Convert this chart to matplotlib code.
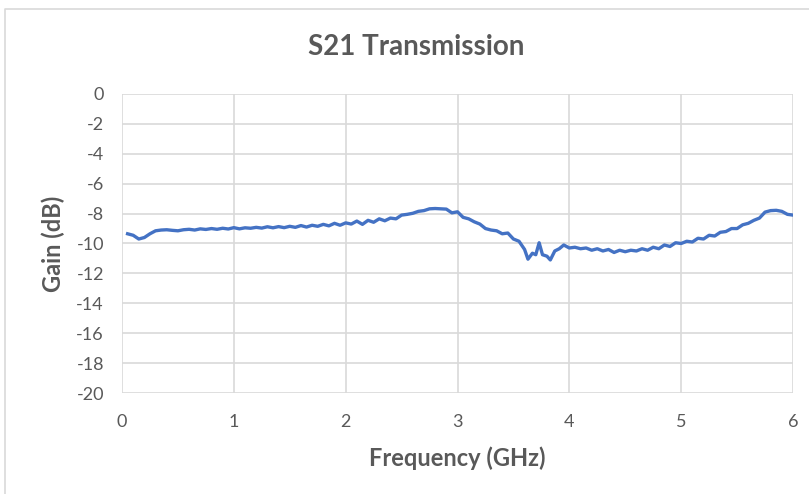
import matplotlib.pyplot as plt
from matplotlib.lines import Line2D

freq = [0.05, 0.10, 0.15, 0.20, 0.25, 0.30, 0.35, 0.40, 0.45, 0.50,
        0.55, 0.60, 0.65, 0.70, 0.75, 0.80, 0.85, 0.90, 0.95, 1.00,
        1.05, 1.10, 1.15, 1.20, 1.25, 1.30, 1.35, 1.40, 1.45, 1.50,
        1.55, 1.60, 1.65, 1.70, 1.75, 1.80, 1.85, 1.90, 1.95, 2.00,
        2.05, 2.10, 2.15, 2.20, 2.25, 2.30, 2.35, 2.40, 2.45, 2.50,
        2.55, 2.60, 2.65, 2.70, 2.75, 2.80, 2.85, 2.90, 2.95, 3.00,
        3.05, 3.10, 3.15, 3.20, 3.25, 3.30, 3.35, 3.40, 3.45, 3.50,
        3.55, 3.60, 3.63, 3.67, 3.70, 3.73, 3.76, 3.80, 3.83, 3.87,
        3.91, 3.95, 4.00, 4.05, 4.10, 4.15, 4.20, 4.25, 4.30, 4.35,
        4.40, 4.45, 4.50, 4.55, 4.60, 4.65, 4.70, 4.75, 4.80, 4.85,
        4.90, 4.95, 5.00, 5.05, 5.10, 5.15, 5.20, 5.25, 5.30, 5.35,
        5.40, 5.45, 5.50, 5.55, 5.60, 5.65, 5.70, 5.75, 5.80, 5.85,
        5.90, 5.95, 6.00]
gain = [-9.35, -9.45, -9.70, -9.60, -9.35, -9.15, -9.10, -9.08, -9.12, -9.15,
        -9.08, -9.05, -9.10, -9.02, -9.06, -9.00, -9.05, -8.98, -9.03, -8.94,
        -9.02, -8.95, -8.98, -8.92, -8.97, -8.88, -8.95, -8.87, -8.94, -8.85,
        -8.92, -8.80, -8.90, -8.78, -8.85, -8.72, -8.82, -8.65, -8.78, -8.62,
        -8.70, -8.50, -8.72, -8.45, -8.58, -8.35, -8.48, -8.30, -8.35, -8.10,
        -8.05, -7.98, -7.85, -7.80, -7.68, -7.66, -7.68, -7.70, -7.95, -7.88,
        -8.25, -8.35, -8.55, -8.70, -9.00, -9.10, -9.15, -9.35, -9.30, -9.70,
        -9.85, -10.40, -11.05, -10.65, -10.75, -9.95, -10.75, -10.85, -11.10, -10.50,
        -10.35, -10.10, -10.30, -10.25, -10.35, -10.30, -10.45, -10.35, -10.50, -10.40,
        -10.60, -10.45, -10.55, -10.45, -10.50, -10.35, -10.45, -10.25, -10.35, -10.10,
        -10.20, -9.95, -10.00, -9.85, -9.90, -9.65, -9.70, -9.45, -9.50, -9.25,
        -9.20, -9.00, -9.00, -8.75, -8.65, -8.45, -8.30, -7.90, -7.80, -7.78,
        -7.85, -8.05, -8.10]

xticks = [0, 1, 2, 3, 4, 5, 6]
yticks = list(range(-20, 1, 2))

plt.rcParams['font.family'] = ['Lato', 'DejaVu Sans']
plt.rcParams['axes.unicode_minus'] = False
gray = '#595959'

fig = plt.figure(figsize=(8.09, 4.94), dpi=100)
ax = fig.add_axes([122 / 809, 1 - 393 / 494, (793 - 122) / 809, (393 - 94) / 494])

ax.plot(freq, gain, color='#4472C4', linewidth=2.4)
ax.set_xlim(0, 6)
ax.set_ylim(-20, 0)
ax.set_xticks(xticks)
ax.set_yticks(yticks)
ax.grid(True, color='#d9d9d9', linewidth=1.2)
ax.set_axisbelow(True)
for s in ax.spines.values():
    s.set_visible(False)
ax.tick_params(length=0, labelsize=13, labelcolor=gray)
ax.tick_params(axis='x', pad=15)
ax.tick_params(axis='y', pad=13)

ax.set_xlabel('Frequency (GHz)', fontsize=17, fontweight='bold', color=gray, labelpad=12)
ax.set_ylabel('Gain (dB)', fontsize=17, fontweight='bold', color=gray, labelpad=8)
fig.text(416 / 809, 1 - 47 / 494, 'S21 Transmission', fontsize=20, fontweight='bold',
         color=gray, ha='center', va='center')

# chart area border (cropped on right and bottom)
fig.add_artist(Line2D([5 / 809, 5 / 809, 1.0], [0.0, 1 - 9 / 494, 1 - 9 / 494],
                      transform=fig.transFigure, color='#d9d9d9', linewidth=1.2))

fig.savefig('out.png', dpi=100)
